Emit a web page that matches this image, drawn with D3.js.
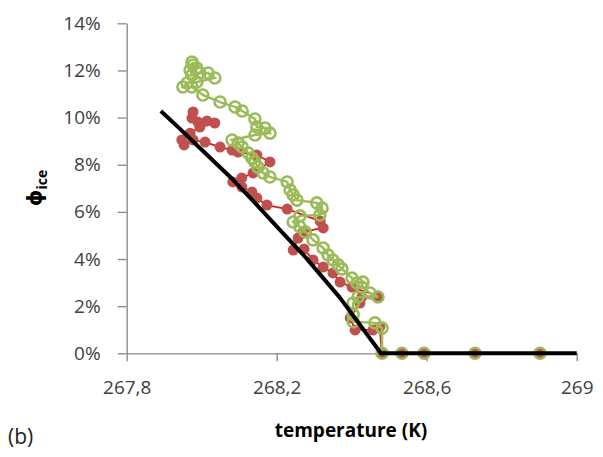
<!DOCTYPE html>
<html><head><meta charset="utf-8">
<script src="https://cdn.jsdelivr.net/npm/d3@7"></script>
<style>body{margin:0;background:#fff}svg{display:block}</style>
</head><body>
<svg id="c" width="603" height="457"></svg>
<script>
// Data (temperature K, ice fraction %)
const xTicks = [267.8, 268.2, 268.6, 269];
const yTicks = [0, 2, 4, 6, 8, 10, 12, 14];

const modelT = [267.891, 267.942, 268.009, 268.076, 268.142, 268.209, 268.276, 268.369, 268.478, 269.0];
const modelPhi = [10.28, 9.52, 8.50, 7.48, 6.38, 5.23, 4.09, 2.35, 0, 0];

const redT = [267.977,267.974,267.990,268.014,268.035,267.995,267.969,267.947,267.953,267.977,268.009,268.049,268.081,268.097,268.147,268.182,268.137,268.107,268.083,268.107,268.134,268.147,268.174,268.228,268.316,268.324,268.270,268.257,268.244,268.273,268.297,268.324,268.350,268.369,268.401,268.470,268.427,268.422,268.396,268.409,268.457,268.475,268.480,268.534,268.593,268.729,268.902];
const redPhi = [10.24,9.98,9.81,9.86,9.77,9.60,9.34,9.05,8.84,9.05,8.96,8.75,8.62,8.54,8.41,8.12,7.65,7.44,7.27,7.06,6.84,6.59,6.29,6.12,5.61,5.32,5.15,4.89,4.38,4.42,3.96,3.66,3.41,3.02,2.81,2.43,2.39,2.13,1.50,0.99,0.99,1.12,0,0,0,0,0];

const greenT = [267.974,267.977,267.987,267.969,267.974,267.995,268.017,268.035,267.987,267.961,267.950,267.974,268.003,268.049,268.089,268.108,268.142,268.147,268.169,268.182,268.142,268.081,268.097,268.108,268.124,268.134,268.142,268.150,268.164,268.182,268.228,268.236,268.244,268.254,268.307,268.321,268.315,268.262,268.244,268.262,268.276,268.297,268.324,268.337,268.350,268.364,268.374,268.401,268.414,268.430,268.427,268.449,268.470,268.417,268.404,268.404,268.404,268.462,268.481,268.481,268.534,268.593,268.729,268.902];
const greenPhi = [12.36,12.23,12.10,12.02,11.81,11.89,11.89,11.68,11.51,11.47,11.30,11.30,10.96,10.66,10.45,10.28,9.94,9.60,9.56,9.34,9.26,9.05,8.92,8.75,8.50,8.29,8.12,7.90,7.65,7.48,7.27,6.93,6.72,6.50,6.38,6.16,5.87,5.83,5.57,5.36,5.15,4.81,4.47,4.17,3.96,3.75,3.58,3.19,2.98,3.02,2.81,2.56,2.39,2.39,2.13,1.64,1.34,1.29,1.07,0,0,0,0,0];

const svg = d3.select("#c");
const L = 126.7, R = 576.7, T = 23.3, B = 353.3;
const x = d3.scaleLinear().domain([267.8, 269]).range([L, R]);
const y = d3.scaleLinear().domain([0, 14]).range([B, T]);
const font = "'Open Sans', sans-serif";
const axisCol = "#868686";
const fmtX = d => String(d).replace(".", ",");

const xAxis = svg.append("g").attr("transform", `translate(0,${B})`)
  .call(d3.axisBottom(x).tickValues(xTicks).tickSize(8).tickSizeOuter(0).tickPadding(19).tickFormat(fmtX));
const yAxis = svg.append("g").attr("transform", `translate(${L},0)`)
  .call(d3.axisLeft(y).tickValues(yTicks).tickSize(9).tickSizeOuter(0).tickPadding(17).tickFormat(d => d + "%"));
[xAxis, yAxis].forEach(a => {
  a.select(".domain").attr("stroke", axisCol).attr("stroke-width", 1.3);
  a.selectAll(".tick line").attr("stroke", axisCol).attr("stroke-width", 1.3);
  a.selectAll("text").attr("fill", "#404040").style("font-family", font).style("font-size", "19px");
});

const line = (xs, ys) => d3.line().x((d, i) => x(xs[i])).y((d, i) => y(ys[i]))(xs);

// red series
svg.append("path").attr("d", line(redT, redPhi)).attr("fill", "none").attr("stroke", "#e31a1c").attr("stroke-width", 1.8);
svg.append("g").selectAll("circle").data(redT).join("circle")
  .attr("cx", (d) => x(d)).attr("cy", (d, i) => y(redPhi[i])).attr("r", 5.5).attr("fill", "#c0504d");

// green series
svg.append("path").attr("d", line(greenT, greenPhi)).attr("fill", "none").attr("stroke", "#9bbb59").attr("stroke-width", 2.4);
svg.append("g").selectAll("circle").data(greenT).join("circle")
  .attr("cx", d => x(d)).attr("cy", (d, i) => y(greenPhi[i])).attr("r", 5.5).attr("fill", "none")
  .attr("stroke", "#9bbb59").attr("stroke-width", 2.6);

// model line
svg.append("path").attr("d", line(modelT, modelPhi)).attr("fill", "none").attr("stroke", "#000").attr("stroke-width", 4).attr("stroke-linejoin", "round");

// titles
svg.append("text").attr("x", 351).attr("y", 437).attr("text-anchor", "middle")
  .style("font-family", font).style("font-size", "19px").style("font-weight", "bold").text("temperature (K)");
svg.append("text").attr("x", 8).attr("y", 444)
  .style("font-family", font).style("font-size", "21px").attr("fill", "#222").text("(b)");
const yt = svg.append("text").attr("transform", "translate(42,188) rotate(-90)").attr("text-anchor", "middle")
  .style("font-family", "'DejaVu Sans', sans-serif").style("font-weight", "bold");
yt.append("tspan").style("font-size", "21px").text("ϕ");
yt.append("tspan").style("font-size", "14px").attr("dy", 5).style("font-family", font).text("ice");
</script>
</body></html>
